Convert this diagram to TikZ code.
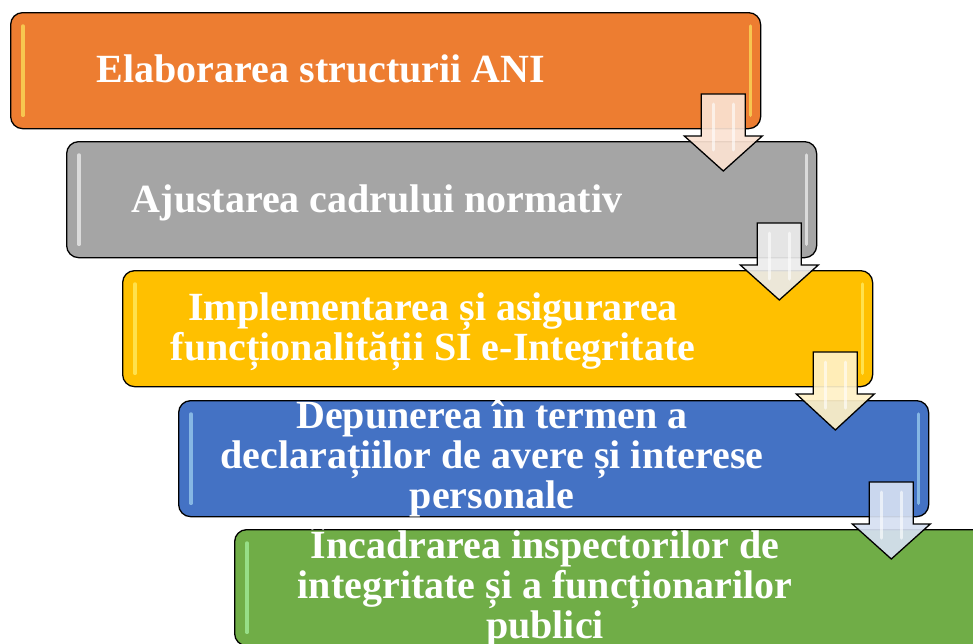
\documentclass[tikz,border=0pt]{standalone}
\usepackage{fontspec}
\setmainfont{Liberation Serif}
\usetikzlibrary{calc}
\definecolor{cOrange}{HTML}{ED7D31}
\definecolor{cGray}{HTML}{A5A5A5}
\definecolor{cYellow}{HTML}{FFC000}
\definecolor{cBlue}{HTML}{4472C4}
\definecolor{cGreen}{HTML}{70AD47}
\tikzset{
  stepbox/.style={draw=black, line width=1.3pt, rounded corners=12pt,
    minimum width=750pt, minimum height=116pt, anchor=north west,
    inner sep=0pt, fill=#1},
  boxtext/.style={text=white, font=\fontsize{40}{40}\selectfont\bfseries,
    align=center, anchor=base, inner sep=0pt},
  gloss/.style={draw=#1, line width=3.5pt, line cap=round, opacity=0.6},
  blockarrow/.style={draw=black, line width=1.3pt, line join=miter,
    fill=#1!22!white, fill opacity=0.92},
  arrowgloss/.style={draw=white, line width=3pt, opacity=0.6, line cap=round},
}
\newcommand\stepArrow[3]{%
  \draw[blockarrow=#3] let \p1=(#1.north east), \p2=(#2.north) in
    (\x1-60pt,\y1-82pt) -- (\x1-16pt,\y1-82pt) -- (\x1-16pt,\y1-124pt)
    -- (\x1+1pt,\y1-124pt) -- (\x1-38pt,\y2-30pt) -- (\x1-77pt,\y1-124pt)
    -- (\x1-60pt,\y1-124pt) -- cycle;
  \draw[arrowgloss] let \p1=(#1.north east) in
    (\x1-48pt,\y1-92pt) -- (\x1-48pt,\y1-138pt)
    (\x1-28pt,\y1-92pt) -- (\x1-28pt,\y1-138pt);
}
\newcommand\boxGloss[2]{%
  \draw[gloss=#2] ($(#1.north west)+(13pt,-14pt)$) -- ($(#1.south west)+(13pt,14pt)$);
  \draw[gloss=#2] ($(#1.north east)+(-11pt,-14pt)$) -- ($(#1.south east)+(-11pt,14pt)$);
}
\begin{document}
\begin{tikzpicture}[x=1pt,y=-1pt]
\useasboundingbox (0,0) rectangle (973,643);
\clip (0,0) rectangle (973,643);
\node[stepbox=cOrange] (b1) at (10,12) {};
\node[stepbox=cGray]   (b2) at (66,141) {};
\node[stepbox=cYellow] (b3) at (122,270) {};
\node[stepbox=cBlue]   (b4) at (178,400) {};
\node[stepbox=cGreen]  (b5) at (234,529) {};
\boxGloss{b1}{yellow!60!white}
\boxGloss{b2}{white}
\boxGloss{b3}{yellow!50!white}
\boxGloss{b4}{cyan!30!white}
\boxGloss{b5}{green!30!white}
\node[boxtext] (t1) at ($(b1.north west)+(311pt,-70pt)$) {Elaborarea structurii ANI};
\node[boxtext] (t2) at ($(b2.north west)+(311pt,-71pt)$) {Ajustarea cadrului normativ};
\node[boxtext] (t3) at ($(b3.north west)+(311pt,-90pt)$) {Implementarea și asigurarea\\funcționalității SI e-Integritate};
\node[boxtext] (t4) at ($(b4.north west)+(314pt,-108pt)$) {Depunerea în termen a\\declarațiilor de avere și interese\\personale};
\node[boxtext] (t5) at ($(b5.north west)+(311pt,-109pt)$) {Încadrarea inspectorilor de\\integritate și a funcționarilor\\publici};
\stepArrow{b1}{b2}{cOrange}
\stepArrow{b2}{b3}{cGray}
\stepArrow{b3}{b4}{cYellow}
\stepArrow{b4}{b5}{cBlue}
\end{tikzpicture}
\end{document}
